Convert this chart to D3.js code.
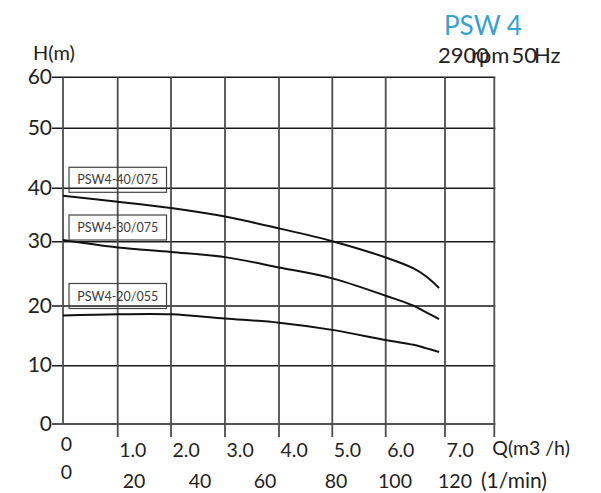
<!DOCTYPE html>
<html>
<head>
<meta charset="utf-8">
<script src="https://cdn.jsdelivr.net/npm/d3@7"></script>
<style>
  body { margin: 0; background: #fff; }
  text { font-family: Lato, "Open Sans", sans-serif; fill: #222; }
  .hgrid { stroke: #1a1a1a; stroke-width: 1.4; }
  .vgrid { stroke: #4d4d4d; stroke-width: 1.8; }
  .curve { fill: none; stroke: #111; stroke-width: 2; }
  .tag-box { fill: none; stroke: #444; stroke-width: 1.2; }
  .tag { font-size: 12.5px; fill: #3a3a3a; }
</style>
</head>
<body>
<svg id="chart" width="601" height="493"></svg>
<script>
var W = 601, H = 493;

// head ticks (m) and flow ticks (m3/h)
var headTicks = [0, 10, 20, 30, 40, 50, 60];
var flowTicks = [0, 1, 2, 3, 4, 5, 6, 7];
var flowMax = 7.83;
var flowLabels = ["0", "1.0", "2.0", "3.0", "4.0", "5.0", "6.0", "7.0"];
var lpmTicks = [0, 20, 40, 60, 80, 100, 120];

// curves
var flowPts = [0, 1, 2, 3, 4, 5, 6, 6.47, 6.69, 6.9];
var head40 = [38.6, 37.5, 36.3, 34.7, 32.5, 30.1, 27.55, 25.85, 24.55, 22.8];
var head30 = [30.3, 29.1, 28.4, 27.6, 26.0, 24.3, 21.6, 20.05, 18.9, 17.8];
var head20 = [18.4, 18.6, 18.6, 17.9, 17.2, 16.0, 14.3, 13.5, 12.9, 12.3];
var curveNames = ["PSW4-40/075", "PSW4-30/075", "PSW4-20/055"];
var tagTops = [43.5, 35.0, 23.5];

// the printed grid is not evenly spaced, so scales are piecewise
var x = d3.scaleLinear()
  .domain(flowTicks.concat([flowMax]))
  .range([63, 117.7, 171, 225, 279, 332.3, 385.7, 445, 494.3]);
var y = d3.scaleLinear()
  .domain(headTicks)
  .range([424, 365.7, 306, 241.7, 188.3, 128.3, 77.3]);
var xl = d3.scaleLinear()
  .domain(lpmTicks)
  .range([66.5, 134, 200, 265, 336, 395, 455]);

var svg = d3.select("#chart");

// horizontal grid (with the little outer tick dash)
svg.selectAll(".hgrid")
  .data(headTicks)
  .enter().append("line")
  .attr("class", "hgrid")
  .attr("x1", x(0) - 11)
  .attr("x2", x(flowMax) + 1)
  .attr("y1", function(d) { return y(d); })
  .attr("y2", function(d) { return y(d); });

// vertical grid, ticks hang below the base line
svg.selectAll(".vgrid")
  .data(flowTicks.concat([flowMax]))
  .enter().append("line")
  .attr("class", "vgrid")
  .attr("x1", function(d) { return x(d); })
  .attr("x2", function(d) { return x(d); })
  .attr("y1", y(60))
  .attr("y2", function(d) { return d === 0 ? y(0) : y(0) + 13; });

// y labels
svg.selectAll(".ylab")
  .data(headTicks)
  .enter().append("text")
  .attr("class", "ylab")
  .attr("x", x(0) - 11)
  .attr("y", function(d) { return y(d) - 1; })
  .attr("dy", "0.36em")
  .attr("text-anchor", "end")
  .style("font-size", "21px")
  .text(function(d) { return d; });

svg.append("text")
  .attr("x", 33).attr("y", 60)
  .style("font-size", "20px")
  .text("H(m)");

// flow labels m3/h
svg.selectAll(".xlab")
  .data(flowTicks)
  .enter().append("text")
  .attr("class", "xlab")
  .attr("x", function(d) { return d === 0 ? x(d) + 3.5 : x(d) + 1.5; })
  .attr("y", function(d) { return d === 0 ? 451 : 457; })
  .attr("text-anchor", function(d) { return d === 0 ? "middle" : "start"; })
  .style("font-size", "19.5px")
  .text(function(d, i) { return flowLabels[i]; });

svg.append("text")
  .attr("x", x(flowMax) - 2).attr("y", 455)
  .style("font-size", "19.5px")
  .text("Q(m3 /h)");

// flow labels l/min
svg.selectAll(".llab")
  .data(lpmTicks)
  .enter().append("text")
  .attr("class", "llab")
  .attr("x", function(d) { return xl(d); })
  .attr("y", function(d) { return d === 0 ? 479 : 488; })
  .attr("text-anchor", "middle")
  .style("font-size", "19.5px")
  .text(function(d) { return d; });

svg.append("text")
  .attr("x", 481).attr("y", 488)
  .style("font-size", "21px")
  .text("(1/min)");

// title
svg.append("text")
  .attr("x", 444).attr("y", 35)
  .style("font-size", "26px")
  .style("fill", "#35a2d2")
  .text("PSW 4");

// the speed line overlaps in the original, kept that way
var sub = [["2900", 438], ["rpm", 471], ["50", 511.5], ["Hz", 534]];
svg.selectAll(".sub")
  .data(sub)
  .enter().append("text")
  .attr("class", "sub")
  .attr("x", function(d) { return d[1]; })
  .attr("y", 63)
  .style("font-size", "22px")
  .text(function(d) { return d[0]; });

// curves
var line = d3.line()
  .x(function(d) { return x(d[0]); })
  .y(function(d) { return y(d[1]); })
  .curve(d3.curveCatmullRom);

[head40, head30, head20].forEach(function(hs) {
  svg.append("path")
    .attr("class", "curve")
    .attr("d", line(flowPts.map(function(q, i) { return [q, hs[i]]; })));
});

// model tags
var tg = svg.selectAll(".tagg")
  .data(curveNames)
  .enter().append("g")
  .attr("class", "tagg");
tg.append("rect")
  .attr("class", "tag-box")
  .attr("x", x(0.11))
  .attr("y", function(d, i) { return y(tagTops[i]); })
  .attr("width", 97.5)
  .attr("height", 25);
tg.append("text")
  .attr("class", "tag")
  .attr("x", x(0.11) + 48.7)
  .attr("y", function(d, i) { return y(tagTops[i]) + 12.8; })
  .attr("dy", "0.35em")
  .attr("text-anchor", "middle")
  .text(function(d) { return d; });
</script>
</body>
</html>
